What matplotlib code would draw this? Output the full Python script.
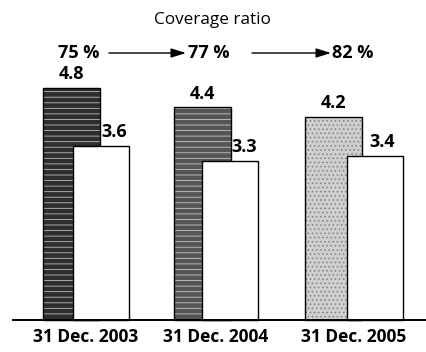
import matplotlib
matplotlib.use("Agg")
import matplotlib.pyplot as plt

# data
dates = ["31 Dec. 2003", "31 Dec. 2004", "31 Dec. 2005"]
first_vals = [4.8, 4.4, 4.2]
second_vals = [3.6, 3.3, 3.4]
ratios = ["75 %", "77 %", "82 %"]

plt.rcParams["font.family"] = ["Open Sans", "DejaVu Sans"]
plt.rcParams["hatch.linewidth"] = 0.6

W, H = 427, 352
fig = plt.figure(figsize=(W / 100, H / 100), dpi=100)
ax = fig.add_axes([0, 0, 1, 1])

# pixel layout -> data scale
unit_x = 131.0          # px per category
unit_y = 48.3           # px per value unit
base_px = 32.0          # baseline, px from bottom
first_left_px = 43.0
ax.set_xlim(-first_left_px / unit_x, (W - first_left_px) / unit_x)
ax.set_ylim(-base_px / unit_y, (H - base_px) / unit_y)
ax.axis("off")

w1 = 57 / unit_x
w2 = 56 / unit_x
offsets = [30 / unit_x, 28 / unit_x, 42 / unit_x]
fills = ["#2e2e2e", "#555555", "#cfcfcf"]
hatches = ["---", "---", "...."]
hatch_cols = ["#bdbdbd", "#c8c8c8", "#808080"]

for i, (v1, v2) in enumerate(zip(first_vals, second_vals)):
    ax.bar(i, v1, width=w1, align="edge", color=fills[i], edgecolor=hatch_cols[i],
           hatch=hatches[i], linewidth=0, zorder=2)
    ax.bar(i, v1, width=w1, align="edge", facecolor="none", edgecolor="black",
           linewidth=1.0, zorder=3)
    ax.bar(i + offsets[i], v2, width=w2, align="edge", color="white",
           edgecolor="black", linewidth=1.0, zorder=4)
    ax.text(i + w1 / 2, v1 + 0.1, f"{v1:.1f}", ha="center", va="bottom",
            fontsize=13, fontweight="bold", zorder=5)
    vis_c = (i + w1 + i + offsets[i] + w2) / 2
    ax.text(vis_c, v2 + 0.1, f"{v2:.1f}", ha="center", va="bottom",
            fontsize=13, fontweight="bold", zorder=5)
    ax.text(i + (offsets[i] + w2) / 2, -0.36, dates[i], ha="center", va="center",
            fontsize=12.5, fontweight="bold")

# baseline
ax.plot([ax.get_xlim()[0] + 12 / unit_x, ax.get_xlim()[1]], [0, 0],
        color="black", linewidth=1.4, zorder=6, solid_capstyle="butt")

# header
fig.text(212 / W, 1 - 20 / H, "Coverage ratio", ha="center", va="center", fontsize=12.3)
ratio_x = [79, 209, 353]
ry = 1 - 53 / H
for x, r in zip(ratio_x, ratios):
    fig.text(x / W, ry, r, ha="center", va="center", fontsize=13, fontweight="bold")
arrows = [(109, 186), (252, 331)]
for x0, x1 in arrows:
    ax.annotate("", xy=(x1 / W, ry), xytext=(x0 / W, ry), xycoords="figure fraction",
                textcoords="figure fraction",
                arrowprops=dict(arrowstyle="-|>,head_length=0.9,head_width=0.28",
                                color="black", lw=1.0, shrinkA=0, shrinkB=0))

fig.savefig("out.png", dpi=100)
